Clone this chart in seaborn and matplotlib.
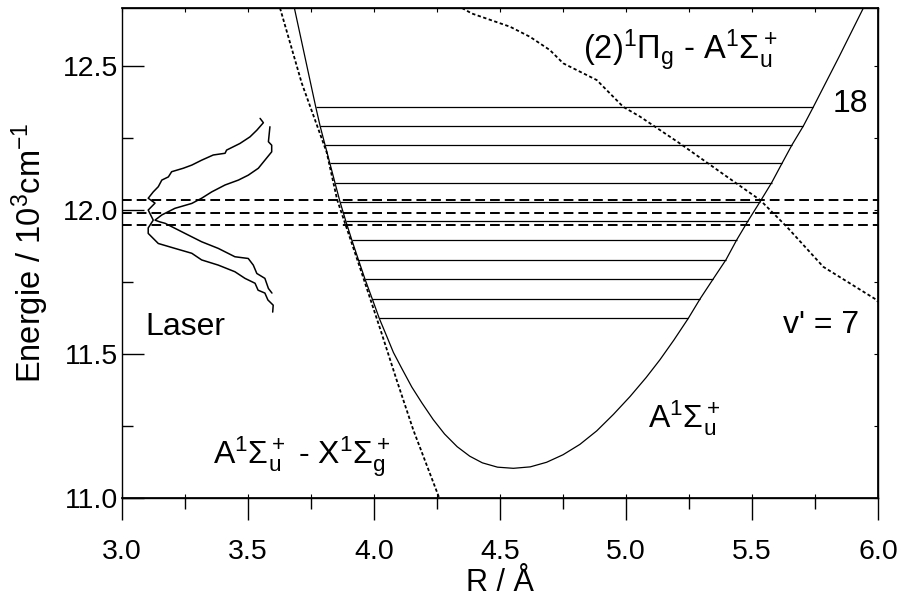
import numpy as np
import pandas as pd
import matplotlib
matplotlib.use("Agg")
import matplotlib.pyplot as plt
import seaborn as sns

# ---------------- data ----------------
# A 1Sigma_u+ potential curve (R in Angstrom, E in 10^3 cm^-1)
pot_R = [3.684, 3.769, 3.786, 3.806, 3.825, 3.845, 3.865, 3.888, 3.912, 3.938,
         3.964, 3.993, 4.021, 4.043, 4.077, 4.110, 4.150, 4.190, 4.235, 4.280,
         4.330, 4.380, 4.430, 4.490, 4.553, 4.620, 4.685, 4.750, 4.817, 4.884,
         4.950, 5.016, 5.080, 5.135, 5.190, 5.247, 5.294, 5.346, 5.397, 5.439,
         5.484, 5.532, 5.578, 5.619, 5.658, 5.704, 5.743, 5.845, 5.942, 5.975]
pot_E = [12.700, 12.356, 12.291, 12.224, 12.161, 12.094, 12.028, 11.961, 11.895, 11.827,
         11.760, 11.691, 11.623, 11.577, 11.505, 11.450, 11.385, 11.330, 11.272, 11.222,
         11.178, 11.145, 11.122, 11.107, 11.103, 11.108, 11.124, 11.150, 11.186, 11.233,
         11.290, 11.352, 11.418, 11.480, 11.548, 11.623, 11.691, 11.760, 11.827, 11.895,
         11.961, 12.028, 12.094, 12.161, 12.224, 12.291, 12.356, 12.530, 12.700, 12.760]

# vibrational levels v' = 7 ... 18
lev_E = [11.623, 11.691, 11.760, 11.827, 11.895, 11.961,
         12.028, 12.094, 12.161, 12.224, 12.291, 12.356]
lev_Rin = [4.021, 3.993, 3.964, 3.938, 3.912, 3.888,
           3.865, 3.845, 3.825, 3.806, 3.786, 3.769]
lev_Rout = [5.247, 5.294, 5.346, 5.397, 5.439, 5.484,
            5.532, 5.578, 5.619, 5.658, 5.704, 5.743]

# A-X difference potential (dotted)
ax_R = [3.627, 3.713, 3.812, 3.854, 3.944, 4.030, 4.090, 4.156, 4.262]
ax_E = [12.700, 12.440, 12.200, 12.034, 11.800, 11.572, 11.409, 11.236, 10.993]

# (2)Pi_g - A difference potential (dotted)
pi_R = [4.349, 4.388, 4.540, 4.619, 4.698, 4.751, 4.884, 4.989, 5.056, 5.214,
        5.400, 5.532, 5.638, 5.783, 5.995, 6.000]
pi_E = [12.700, 12.681, 12.635, 12.600, 12.554, 12.508, 12.450, 12.357, 12.323, 12.230,
        12.115, 12.034, 11.941, 11.802, 11.687, 11.680]

# laser lines (dashed)
laser_E = [12.035, 11.990, 11.948]

# laser spectral profiles (drawn sideways)
las1_x = [3.548, 3.561, 3.535, 3.508, 3.468, 3.415, 3.409, 3.362, 3.316, 3.277,
          3.243, 3.197, 3.184, 3.158, 3.144, 3.124, 3.104, 3.131, 3.104, 3.124,
          3.104, 3.104, 3.144, 3.210, 3.277, 3.316, 3.382, 3.448, 3.488, 3.528,
          3.540, 3.567, 3.579, 3.600, 3.598]
las1_E = [12.317, 12.302, 12.276, 12.253, 12.230, 12.207, 12.196, 12.190, 12.172, 12.155,
          12.144, 12.132, 12.114, 12.103, 12.080, 12.062, 12.040, 12.023, 11.999, 11.964,
          11.937, 11.918, 11.883, 11.866, 11.849, 11.826, 11.808, 11.785, 11.762, 11.745,
          11.721, 11.711, 11.687, 11.669, 11.645]
las2_x = [3.587, 3.581, 3.594, 3.594, 3.567, 3.541, 3.501, 3.462, 3.409, 3.356,
          3.316, 3.277, 3.210, 3.158, 3.131, 3.150, 3.171, 3.250, 3.316, 3.382,
          3.448, 3.501, 3.521, 3.535, 3.567, 3.581, 3.595]
las2_E = [12.288, 12.236, 12.224, 12.201, 12.172, 12.144, 12.120, 12.103, 12.086, 12.062,
          12.040, 12.022, 12.005, 11.982, 11.964, 11.958, 11.953, 11.918, 11.889, 11.866,
          11.837, 11.831, 11.808, 11.779, 11.762, 11.727, 11.711]

x_ticks = [3.0, 3.5, 4.0, 4.5, 5.0, 5.5, 6.0]
x_ticklabels = ["3.0", "3.5", "4.0", "4.5", "5.0", "5.5", "6.0"]
y_ticks = [11.0, 11.5, 12.0, 12.5]
y_ticklabels = ["11.0", "11.5", "12.0", "12.5"]

# ---------------- style ----------------
sns.set_theme(style="ticks")
plt.rcParams["font.family"] = ["Liberation Sans", "DejaVu Sans"]
plt.rcParams["mathtext.fontset"] = "custom"
plt.rcParams["mathtext.rm"] = "Liberation Sans"
plt.rcParams["mathtext.it"] = "Liberation Sans"
plt.rcParams["mathtext.default"] = "regular"
plt.rcParams["lines.scale_dashes"] = False
plt.rcParams["text.color"] = "black"
plt.rcParams["axes.labelcolor"] = "black"
plt.rcParams["xtick.color"] = "black"
plt.rcParams["ytick.color"] = "black"
plt.rcParams["axes.edgecolor"] = "black"

FS = 20.5
fig = plt.figure(figsize=(9.01, 6.02), dpi=100)
ax = fig.add_axes([122 / 901, 1 - 498 / 602, 756 / 901, 490 / 602])

# potential curve
sns.lineplot(x=pot_R, y=pot_E, sort=False, estimator=None, color="black",
             lw=0.9, ax=ax)
# levels
ax.hlines(lev_E, lev_Rin, lev_Rout, color="black", lw=0.9)
# difference potentials
sns.lineplot(x=ax_R, y=ax_E, sort=False, estimator=None, color="black",
             lw=1.3, ax=ax, linestyle=(0, (2.4, 1.6)))
sns.lineplot(x=pi_R, y=pi_E, sort=False, estimator=None, color="black",
             lw=1.3, ax=ax, linestyle=(0, (2.4, 1.8)))
# laser energies
for e in laser_E:
    ax.axhline(e, color="black", lw=1.4, linestyle=(0, (7, 3.6)))
# laser profiles
sns.lineplot(x=las1_x, y=las1_E, sort=False, estimator=None, color="black",
             lw=1.1, ax=ax)
sns.lineplot(x=las2_x, y=las2_E, sort=False, estimator=None, color="black",
             lw=1.1, ax=ax)

ax.set_xlim(3.0, 6.0)
ax.set_ylim(11.0, 12.7)

# ticks
ax.set_xticks(x_ticks)
ax.set_xticklabels(x_ticklabels)
ax.set_yticks(y_ticks)
ax.set_yticklabels(y_ticklabels)
ax.set_xticks(np.arange(3.25, 6.0, 0.5), minor=True)
ax.set_yticks(np.arange(11.25, 12.7, 0.5), minor=True)
ax.tick_params(axis="x", which="major", direction="out", length=15.8, width=1.0,
               labelsize=FS, pad=13.5, color="black", labelcolor="black")
ax.tick_params(axis="x", which="minor", direction="out", length=8.2, width=1.0,
               color="black")
ax.tick_params(axis="y", which="major", direction="in", length=15.8, width=1.0,
               labelsize=FS, pad=3, color="black", labelcolor="black")
ax.tick_params(axis="y", which="minor", direction="in", length=8.2, width=1.0,
               color="black")
for s in ax.spines.values():
    s.set_visible(True)
    s.set_linewidth(1.0)
    s.set_color("black")

q_ticks = np.arange(3.0, 6.01, 0.25)
sec_top = ax.secondary_xaxis("top")
sec_top.set_xticks(q_ticks)
sec_top.set_xticklabels([])
sec_top.tick_params(direction="in", length=3, width=0.8)
sec_bot = ax.secondary_xaxis("bottom")
sec_bot.set_xticks(q_ticks)
sec_bot.set_xticklabels([])
sec_bot.tick_params(direction="in", length=3, width=0.8)
sec_right = ax.secondary_yaxis("right")
sec_right.set_yticks(np.arange(11.0, 12.71, 0.25))
sec_right.set_yticklabels([])
sec_right.tick_params(direction="in", length=3, width=0.8)

ax.set_xlabel("R / Å", fontsize=22, color="black")
ax.xaxis.set_label_coords(0.5, -0.142)
ax.set_ylabel(r"Energie / 10$^3$cm$^{-1}$", fontsize=23.5, color="black")
ax.yaxis.set_label_coords(-0.094, 0.5)

# annotations
TS = 23
ax.text(4.83, 12.519, r"(2)$^1\Pi_g$ - A$^1\Sigma_u^+$", fontsize=TS + 0.5,
        va="baseline", color="black")
ax.text(5.821, 12.339, "18", fontsize=TS, va="baseline", color="black")
ax.text(5.623, 11.572, "v' = 7", fontsize=TS, va="baseline", color="black")
ax.text(5.087, 11.246, r"A$^1\Sigma_u^+$", fontsize=TS, va="baseline", color="black")
ax.text(3.361, 11.121, r"A$^1\Sigma_u^+$ - X$^1\Sigma_g^+$", fontsize=TS,
        va="baseline", color="black")
ax.text(3.091, 11.565, "Laser", fontsize=TS, va="baseline", color="black")

fig.savefig("out.png", dpi=100)
